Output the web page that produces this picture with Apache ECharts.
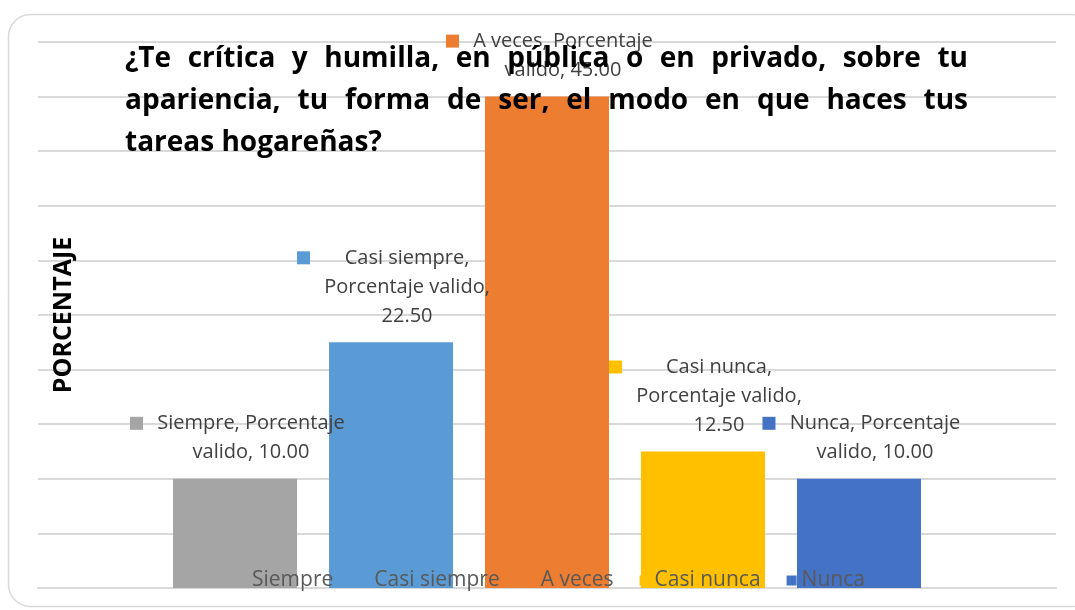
<!DOCTYPE html>
<html>
<head>
<meta charset="utf-8">
<script src="https://cdn.jsdelivr.net/npm/echarts@6/dist/echarts.min.js"></script>
<style>
  html, body { margin: 0; padding: 0; background: #fff; }
  #chart { width: 1075px; height: 610px; }
</style>
</head>
<body>
<div id="chart"></div>
<script>
// datos
var respuestas = ['Siempre', 'Casi siempre', 'A veces', 'Casi nunca', 'Nunca'];
var porcentajes = [10.00, 22.50, 45.00, 12.50, 10.00];
var colores = ['#A5A5A5', '#5B9BD5', '#ED7D31', '#FFC000', '#4472C4'];
var medida = 'Porcentaje valido';
var titulo = ['¿Te crítica y humilla, en pública o en privado, sobre tu',
              'apariencia, tu forma de ser, el modo en que haces tus',
              'tareas hogareñas?'];
var ejeMin = 0, ejeMax = 50, ejeIntervalo = 5;

var FONT = 'Open Sans';
var labelSize = 20;
var titleSize = 28;

var ctx = document.createElement('canvas').getContext('2d');
function ancho(txt, font) {
    ctx.font = font;
    return ctx.measureText(txt).width;
}

// titulo justificado
var tituloAncho = 843;
var tituloRich = {
    w: { fontFamily: FONT, fontWeight: 'bold', fontSize: titleSize, color: '#000', lineHeight: 42 }
};
var tituloTexto = [];
for (var i = 0; i < titulo.length; i++) {
    var palabras = titulo[i].split(' ');
    if (i == titulo.length - 1) {
        tituloTexto.push('{w|' + titulo[i] + '}');
        continue;
    }
    var suma = 0;
    for (var j = 0; j < palabras.length; j++)
        suma += ancho(palabras[j], 'bold ' + titleSize + 'px ' + FONT);
    var hueco = (tituloAncho - suma) / (palabras.length - 1);
    tituloRich['g' + i] = { width: hueco, height: 10, lineHeight: 42 };
    var linea = '';
    for (var j = 0; j < palabras.length; j++) {
        linea += '{w|' + palabras[j] + '}';
        if (j < palabras.length - 1) linea += '{g' + i + '|}';
    }
    tituloTexto.push(linea);
}

// etiqueta estilo Excel: marcador + texto partido en lineas
function partir(txt, max) {
    var palabras = txt.split(' ');
    var lineas = [];
    var actual = '';
    for (var i = 0; i < palabras.length; i++) {
        var prueba = actual ? actual + ' ' + palabras[i] : palabras[i];
        if (actual && ancho(prueba, labelSize + 'px ' + FONT) > max) {
            lineas.push(actual);
            actual = palabras[i];
        } else {
            actual = prueba;
        }
    }
    lineas.push(actual);
    return lineas;
}

var series = [];
for (var i = 0; i < respuestas.length; i++) {
    var texto = respuestas[i] + ', ' + medida + ', ' + porcentajes[i].toFixed(2);
    var lineas = partir(texto, 200);
    var W = 0;
    for (var j = 0; j < lineas.length; j++)
        W = Math.max(W, ancho(lineas[j], labelSize + 'px ' + FONT));
    W = Math.ceil(W) + 2;
    var fmt = '';
    for (var j = 0; j < lineas.length; j++) {
        if (j == 0) fmt += '{m|}{g|}{t|' + lineas[j] + '}';
        else fmt += '\n{s|}{t|' + lineas[j] + '}';
    }
    series.push({
        name: respuestas[i],
        type: 'bar',
        barWidth: 124,
        barGap: '25.8%',
        itemStyle: { color: colores[i] },
        data: [porcentajes[i]],
        label: {
            show: true,
            position: 'top',
            distance: 12,
            offset: [3, 0],
            formatter: fmt,
            rich: {
                m: { width: 13, height: 13, backgroundColor: colores[i], align: 'left', lineHeight: 29 },
                g: { width: 13, align: 'left', lineHeight: 29 },
                s: { width: 26, align: 'left', lineHeight: 29 },
                t: { width: W, align: 'center', fontFamily: FONT, fontSize: labelSize, color: '#404040', lineHeight: 29 }
            }
        }
    });
}

var myChart = echarts.init(document.getElementById('chart'));
var option = {
    animation: false,
    backgroundColor: '#fff',
    title: {
        text: tituloTexto.join('\n'),
        left: 125,
        top: 38,
        padding: 0,
        textStyle: { rich: tituloRich, fontFamily: FONT, fontWeight: 'bold', fontSize: titleSize, lineHeight: 42 }
    },
    graphic: [{
        type: 'rect',
        z: -10,
        shape: { x: 8.5, y: 14.5, width: 1085, height: 592, r: 22 },
        style: { fill: 'none', stroke: '#d9d9d9', lineWidth: 1.5 }
    }],
    legend: {
        data: respuestas,
        left: 237,
        top: 570,
        padding: 0,
        icon: 'rect',
        itemWidth: 10,
        itemHeight: 10,
        itemGap: 26,
        selectedMode: false,
        textStyle: { fontFamily: FONT, fontSize: 21, color: '#595959' }
    },
    grid: { left: 38, right: 19, top: 42, bottom: 22 },
    xAxis: {
        type: 'category',
        data: [medida],
        axisTick: { show: false },
        axisLabel: { show: false },
        axisLine: { lineStyle: { color: '#d9d9d9', width: 2 } }
    },
    yAxis: {
        type: 'value',
        min: ejeMin,
        max: ejeMax,
        interval: ejeIntervalo,
        name: 'PORCENTAJE',
        nameLocation: 'middle',
        nameRotate: 90,
        nameGap: -38,
        nameTextStyle: { fontFamily: FONT, fontWeight: 'bold', fontSize: 25, color: '#000' },
        axisLabel: { show: false },
        axisTick: { show: false },
        axisLine: { show: false },
        splitLine: { lineStyle: { color: '#d9d9d9', width: 2 } }
    },
    series: series
};
myChart.setOption(option);
</script>
</body>
</html>
